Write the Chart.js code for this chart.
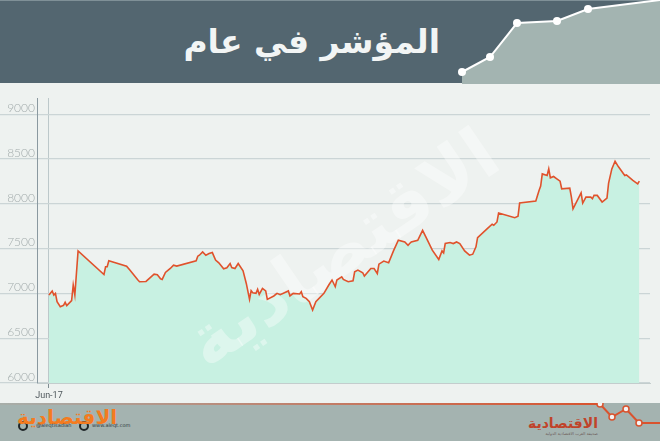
<!DOCTYPE html>
<html>
<head>
<meta charset="utf-8">
<script src="https://cdn.jsdelivr.net/npm/chart.js@4.4.1/dist/chart.umd.min.js"></script>
<style>
  html, body { margin: 0; padding: 0; }
  body { width: 660px; height: 441px; position: relative; overflow: hidden; background: #eef2f0; font-family: "DejaVu Sans", sans-serif; }
  #head { position: absolute; left: 0; top: 0; width: 660px; height: 83px; background: #536670; border-top: 1px solid #7f9097; box-sizing: border-box; }
  #head svg { position: absolute; left: 0; top: -1px; }
  #title { position: absolute; right: 220px; top: 24px; color: #f2f5f5; font: bold 33px/1 "DejaVu Sans"; direction: rtl; white-space: nowrap; }
  #plot { position: absolute; left: 0; top: 88px; }
  #foot { position: absolute; left: 0; top: 403px; width: 660px; height: 38px; background: #a4b3b0; }
  #foot svg { position: absolute; left: 0; top: 0; }
  #logoL { position: absolute; left: 17px; top: 4px; color: #f47b20; font: bold 20px/1 "DejaVu Sans"; direction: rtl; white-space: nowrap; }
  .handle { position: absolute; top: 20px; font: 5px/1 "DejaVu Sans"; color: #2f3a3d; white-space: nowrap; }
  #logoR { position: absolute; right: 62px; top: 13px; color: #c0432a; font: bold 14px/1 "DejaVu Sans"; direction: rtl; white-space: nowrap; }
  #subR { position: absolute; right: 62px; top: 29px; color: #6d5c58; font: 4px/1 "DejaVu Sans"; direction: rtl; white-space: nowrap; }
</style>
</head>
<body>
<div id="head">
  <svg width="660" height="84">
    <polygon points="462,72 490,57 517,23 557,21 588,9 660,0 660,84 462,84" fill="#a3b4b1"/>
    <polyline points="462,72 490,57 517,23 557,21 588,9 660,0" fill="none" stroke="#ffffff" stroke-width="2"/>
    <circle cx="462" cy="72" r="4" fill="#ffffff"/>
    <circle cx="490" cy="57" r="4" fill="#ffffff"/>
    <circle cx="517" cy="23" r="4" fill="#ffffff"/>
    <circle cx="557" cy="21" r="4" fill="#ffffff"/>
    <circle cx="588" cy="9" r="4" fill="#ffffff"/>
  </svg>
  <div id="title">المؤشر في عام</div>
</div>

<canvas id="plot" width="660" height="316"></canvas>

<div id="foot">
  <svg width="660" height="38">
    <defs>
      <linearGradient id="redLine" x1="0" y1="0" x2="600" y2="0" gradientUnits="userSpaceOnUse">
        <stop offset="0" stop-color="#d9532e" stop-opacity="0.05"/>
        <stop offset="1" stop-color="#d9532e"/>
      </linearGradient>
    </defs>
    <polyline points="0,1 600,1 612,14 626,6 639,20 660,20" fill="none" stroke="url(#redLine)" stroke-width="2"/>
    <circle cx="600" cy="1" r="3" fill="#f4f4f4" stroke="#d9532e" stroke-width="1.5"/>
    <circle cx="612" cy="14" r="3" fill="#f4f4f4" stroke="#d9532e" stroke-width="1.5"/>
    <circle cx="626" cy="6" r="3" fill="#f4f4f4" stroke="#d9532e" stroke-width="1.5"/>
    <circle cx="639" cy="20" r="3" fill="#f4f4f4" stroke="#d9532e" stroke-width="1.5"/>
    <circle cx="23" cy="23" r="4" fill="none" stroke="#1f2628" stroke-width="2"/>
    <circle cx="84" cy="23" r="4" fill="none" stroke="#1f2628" stroke-width="2"/>
  </svg>
  <div id="logoL">الاقتصادية</div>
  <div class="handle" style="left:36px">@aleqtisadiah</div>
  <div class="handle" style="left:92px">www.aleqt.com</div>
  <div id="logoR">الاقتصادية</div>
  <div id="subR">صحيفة العرب الاقتصادية الدولية</div>
</div>

<script>
// ── Data: days since start (Jun-17) and index level ───────
const days = [
  0, 2, 3, 4, 5, 7, 9, 10, 11, 14, 15, 16, 18, 34, 35, 36, 37, 48, 50, 55,
  56, 60, 65, 67, 69, 70, 72, 75, 77, 79, 91, 92, 93, 95, 97, 99, 101, 103, 105, 108,
  110, 112, 113, 115, 117, 120, 122, 124, 125, 126, 128, 129, 130, 132, 134, 135, 139, 141, 143, 148,
  149, 151, 155, 156, 157, 159, 161, 163, 165, 170, 173, 175, 177, 178, 181, 182, 185, 188, 189, 191,
  194, 195, 199, 201, 203, 204, 207, 210, 213, 216, 220, 222, 223, 224, 228, 231, 233, 237, 241, 243,
  244, 245, 248, 250, 252, 254, 257, 260, 262, 264, 265, 271, 274, 275, 277, 278, 288, 290, 291, 301,
  303, 304, 305, 308, 309, 310, 312, 314, 316, 317, 322, 323, 324, 329, 330, 332, 335, 336, 337, 339,
  342, 345, 346, 348, 350, 352, 356, 357, 361, 364, 365
];
const values = [
  6982, 7027, 6982, 7000, 6908, 6852, 6867, 6900, 6863, 6919, 7093, 6982, 7474, 7211, 7297, 7297, 7363, 7304, 7260, 7149,
  7130, 7133, 7215, 7208, 7163, 7156, 7233, 7278, 7315, 7304, 7363, 7415, 7426, 7463, 7426, 7444, 7455, 7371, 7341, 7274,
  7285, 7333, 7289, 7278, 7333, 7252, 7111, 6933, 7030, 7008, 7000, 7044, 6989, 7056, 7027, 6933, 6971, 7000, 6985, 7027,
  6971, 7000, 6993, 7019, 6963, 6944, 6908, 6815, 6908, 7000, 7093, 7149, 7074, 7149, 7185, 7156, 7130, 7141, 7241, 7260,
  7230, 7193, 7278, 7278, 7222, 7326, 7360, 7341, 7474, 7593, 7574, 7537, 7556, 7574, 7593, 7704, 7630, 7482, 7378, 7474,
  7452, 7556, 7567, 7556, 7574, 7556, 7474, 7426, 7437, 7519, 7622, 7722, 7771, 7760, 7797, 7897, 7845, 7860, 8008, 8030,
  8149, 8197, 8333, 8315, 8389, 8289, 8304, 8278, 8252, 8167, 8174, 8074, 7944, 8122, 8008, 8074, 8074, 8056, 8093, 8093,
  8019, 8063, 8230, 8389, 8474, 8415, 8315, 8322, 8260, 8222, 8252
];
const yTicks = [6000, 6500, 7000, 7500, 8000, 8500, 9000];
const xTickDays = [0];
const xTickLabels = ['Jun-17'];

const points = days.map((d, i) => ({ x: d, y: values[i] }));

// ── Faint masthead watermark, painted between fill and line ─
const watermark = {
  id: 'watermark',
  beforeDatasetDraw(chart, args) {
    if (args.index !== 0) return;
    const ctx = chart.ctx;
    ctx.save();
    ctx.translate(345, 165);
    ctx.rotate(-0.6);
    ctx.font = 'bold 72px "DejaVu Sans"';
    ctx.fillStyle = 'rgba(255,255,255,0.38)';
    ctx.textAlign = 'center';
    ctx.textBaseline = 'middle';
    ctx.direction = 'rtl';
    ctx.fillText('الاقتصادية', 0, 0);
    ctx.restore();
  }
};

new Chart(document.getElementById('plot').getContext('2d'), {
  type: 'line',
  data: {
    datasets: [
      {
        data: points,
        borderColor: '#e0522c',
        borderWidth: 1.6,
        pointRadius: 0,
        fill: false,
        tension: 0
      },
      {
        data: points,
        borderWidth: 0,
        backgroundColor: '#c8f1e2',
        pointRadius: 0,
        fill: 'start',
        tension: 0
      }
    ]
  },
  plugins: [watermark],
  options: {
    responsive: false,
    animation: false,
    layout: { padding: { top: 10, right: 10, left: 0, bottom: 0 } },
    plugins: { legend: { display: false }, tooltip: { enabled: false } },
    scales: {
      x: {
        type: 'linear',
        min: -7.4,
        max: 371.6,
        afterBuildTicks: s => { s.ticks = xTickDays.map(v => ({ value: v })); },
        afterFit: s => { s.height = 21; },
        grid: { color: '#bcc8ca', tickLength: 5, tickColor: '#7f8d92' },
        border: { color: '#c3cdcd' },
        ticks: {
          autoSkip: false,
          maxRotation: 0,
          padding: 2,
          color: '#4f585c',
          font: { family: 'Roboto', size: 9 },
          callback: v => xTickLabels[xTickDays.indexOf(v)]
        }
      },
      y: {
        min: 6000,
        max: 9180,
        afterBuildTicks: s => { s.ticks = yTicks.map(v => ({ value: v })); },
        afterFit: s => { s.width = 37; },
        grid: { color: '#cbd5d6', lineWidth: 1.2, tickLength: 37 },
        border: { color: '#8a99a0', width: 1 },
        ticks: {
          crossAlign: 'near',
          padding: -35,
          labelOffset: -6,
          color: '#a3acac',
          font: { family: 'Lato', size: 12, weight: '300' },
          callback: v => String(v)
        }
      }
    }
  }
});
</script>
</body>
</html>
